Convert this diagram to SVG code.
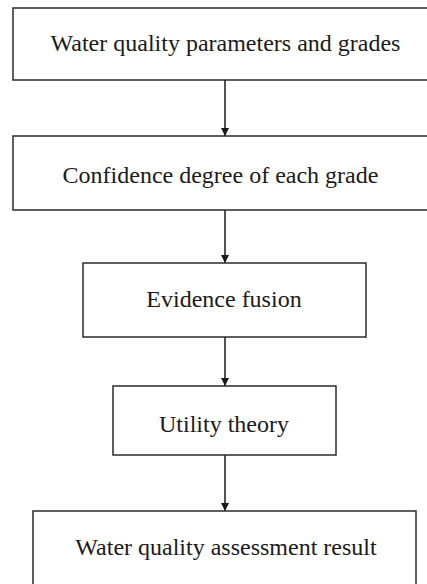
<svg xmlns="http://www.w3.org/2000/svg" width="427" height="584" viewBox="0 0 427 584">
<defs>
<style>
.box{fill:#fff;stroke:#2b2b2b;stroke-width:1.5}
.lbl{font-family:"Liberation Serif","Times New Roman",serif;font-size:24px;fill:#1a1a1a;text-anchor:middle}
.edge{stroke:#1a1a1a;stroke-width:1.5;fill:none;marker-end:url(#arr)}
</style>
<marker id="arr" markerWidth="8" markerHeight="8" refX="6" refY="3" orient="auto" markerUnits="userSpaceOnUse" viewBox="0 0 6 6">
<path d="M0,0 L6,3 L0,6 Z" fill="#1a1a1a"/>
</marker>
</defs>
<rect width="427" height="584" fill="#fff"/>
<g id="connectors">
<line class="edge" x1="225" y1="80" x2="225" y2="136"/>
<line class="edge" x1="225" y1="210" x2="225" y2="263"/>
<line class="edge" x1="225" y1="337" x2="225" y2="386"/>
<line class="edge" x1="225" y1="455" x2="225" y2="511"/>
</g>
<g id="n1">
<rect class="box" x="13" y="8" width="420" height="72"/>
<text class="lbl" x="225.5" y="51">Water quality parameters and grades</text>
</g>
<g id="n2">
<rect class="box" x="13" y="136" width="420" height="74"/>
<text class="lbl" x="220.5" y="183">Confidence degree of each grade</text>
</g>
<g id="n3">
<rect class="box" x="83" y="263" width="283" height="74"/>
<text class="lbl" x="224" y="307">Evidence fusion</text>
</g>
<g id="n4">
<rect class="box" x="113" y="386" width="223" height="69"/>
<text class="lbl" x="224" y="432">Utility theory</text>
</g>
<g id="n5">
<rect class="box" x="33" y="511" width="383" height="90"/>
<text class="lbl" x="226" y="555">Water quality assessment result</text>
</g>
</svg>
